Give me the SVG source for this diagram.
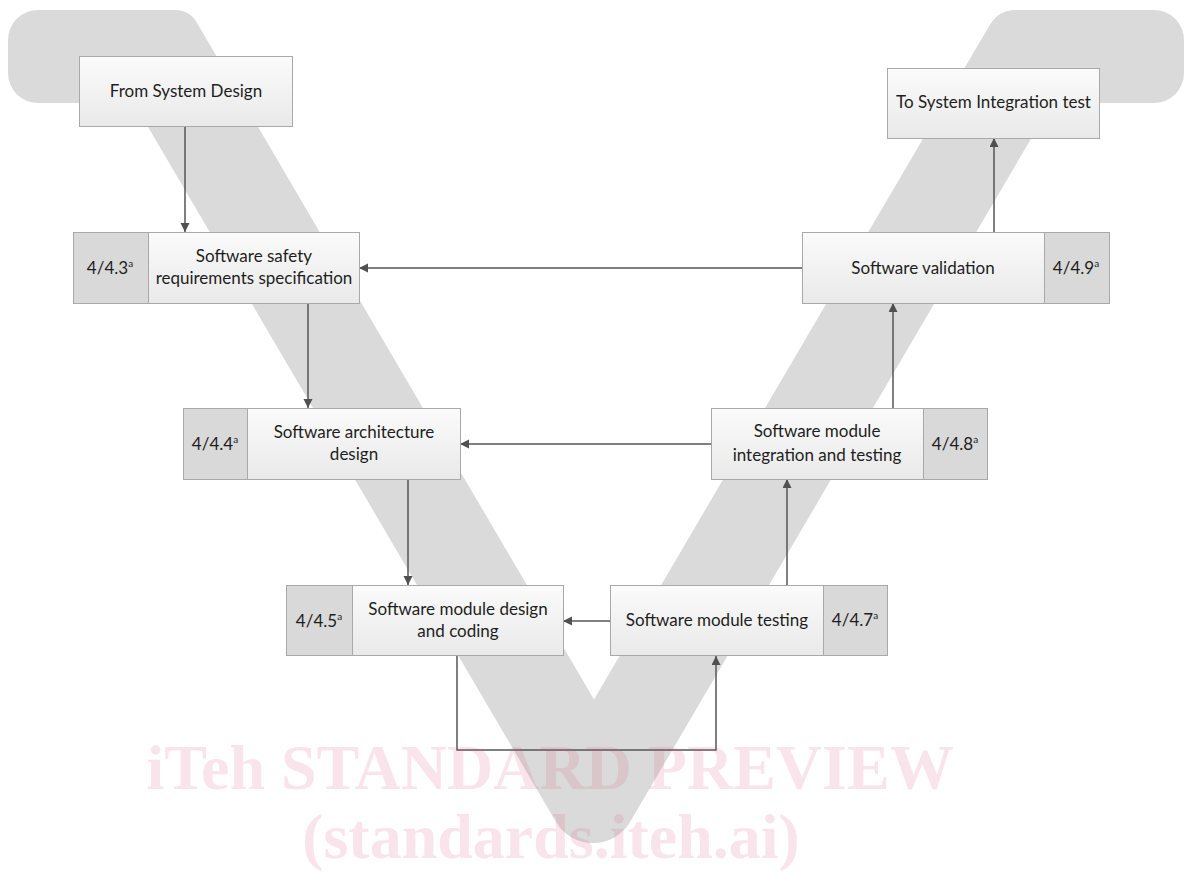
<svg xmlns="http://www.w3.org/2000/svg" width="1184" height="873" viewBox="0 0 1184 873">
<defs>
<linearGradient id="boxg" x1="0" y1="0" x2="0" y2="1">
<stop offset="0" stop-color="#fbfbfb"/>
<stop offset="1" stop-color="#e9e9e9"/>
</linearGradient>
<marker id="arr" markerUnits="userSpaceOnUse" markerWidth="10" markerHeight="10" refX="9" refY="4.5" orient="auto">
<path d="M0,0 L9,4.5 L0,9 Z" fill="#505050"/>
</marker>
<style>
.box{fill:url(#boxg);stroke:#a9a9a9;stroke-width:1}
.num{fill:#d9d9d9;stroke:#a9a9a9;stroke-width:1}
.t{font-family:Lato,"Liberation Sans",sans-serif;font-size:17px;fill:#1e1e1e;text-anchor:middle}
.sup{font-size:10px}
.c{fill:none;stroke:#555555;stroke-width:1.5}
.wm{font-family:"Liberation Serif","Times New Roman",serif;font-weight:bold;font-size:64px;fill:#e05a80;fill-opacity:0.16;text-anchor:middle}
</style>
</defs>
<rect width="1184" height="873" fill="#ffffff"/>
<path id="vshape" fill="#d9dad9" d="M38,10 L175,10 Q189.4,10 196.6,22.3 L594,699.4 L989.9,24.8 Q998.6,10 1015.8,10 L1154,10 A30,30 0 0 1 1184,40 L1184,73 A30,30 0 0 1 1154,103 L1052,103 L630,822 A43,43 0 0 1 556,822 L134,103 L38,103 A30,30 0 0 1 8,73 L8,40 A30,30 0 0 1 38,10 Z"/>
<g id="connectors">
<line class="c" x1="185" y1="127" x2="185" y2="232" marker-end="url(#arr)"/>
<line class="c" x1="308" y1="303" x2="308" y2="408" marker-end="url(#arr)"/>
<line class="c" x1="408" y1="479" x2="408" y2="585" marker-end="url(#arr)"/>
<polyline class="c" points="457,655 457,750 716,750 716,656" marker-end="url(#arr)"/>
<line class="c" x1="787" y1="585" x2="787" y2="479" marker-end="url(#arr)"/>
<line class="c" x1="893" y1="409" x2="893" y2="303" marker-end="url(#arr)"/>
<line class="c" x1="994" y1="232" x2="994" y2="138" marker-end="url(#arr)"/>
<line class="c" x1="802" y1="268" x2="359" y2="268" marker-end="url(#arr)"/>
<line class="c" x1="711" y1="444" x2="460" y2="444" marker-end="url(#arr)"/>
<line class="c" x1="610" y1="621" x2="563" y2="621" marker-end="url(#arr)"/>
</g>
<g id="from-system-design">
<rect class="box" x="79.5" y="56.5" width="213" height="70"/>
<text class="t" x="186" y="97">From System Design</text>
</g>
<g id="to-system-integration">
<rect class="box" x="887.5" y="68.5" width="212" height="70"/>
<text class="t" x="993.5" y="108">To System Integration test</text>
</g>
<g id="safety-requirements">
<rect class="num" x="73.5" y="232.5" width="75" height="71"/>
<rect class="box" x="148.5" y="232.5" width="211" height="71"/>
<text class="t" x="110" y="274">4/4.3<tspan class="sup" dy="-7">a</tspan></text>
<text class="t" x="254" y="262">Software safety</text>
<text class="t" x="254" y="284">requirements specification</text>
</g>
<g id="validation">
<rect class="box" x="802.5" y="232.5" width="242" height="71"/>
<rect class="num" x="1044.5" y="232.5" width="65" height="71"/>
<text class="t" x="923" y="274">Software validation</text>
<text class="t" x="1076" y="274">4/4.9<tspan class="sup" dy="-7">a</tspan></text>
</g>
<g id="architecture">
<rect class="num" x="183.5" y="408.5" width="64" height="71"/>
<rect class="box" x="247.5" y="408.5" width="213" height="71"/>
<text class="t" x="215" y="450">4/4.4<tspan class="sup" dy="-7">a</tspan></text>
<text class="t" x="354" y="438">Software architecture</text>
<text class="t" x="354" y="460">design</text>
</g>
<g id="integration">
<rect class="box" x="711.5" y="408.5" width="212" height="71"/>
<rect class="num" x="923.5" y="408.5" width="64" height="71"/>
<text class="t" x="817" y="437">Software module</text>
<text class="t" x="817" y="461">integration and testing</text>
<text class="t" x="955" y="450">4/4.8<tspan class="sup" dy="-7">a</tspan></text>
</g>
<g id="module-design">
<rect class="num" x="286.5" y="585.5" width="66" height="70"/>
<rect class="box" x="352.5" y="585.5" width="211" height="70"/>
<text class="t" x="319" y="627">4/4.5<tspan class="sup" dy="-7">a</tspan></text>
<text class="t" x="458" y="615">Software module design</text>
<text class="t" x="458" y="637">and coding</text>
</g>
<g id="module-testing">
<rect class="box" x="610.5" y="585.5" width="213" height="70"/>
<rect class="num" x="823.5" y="585.5" width="64" height="70"/>
<text class="t" x="717" y="626">Software module testing</text>
<text class="t" x="855" y="626">4/4.7<tspan class="sup" dy="-7">a</tspan></text>
</g>
<g id="watermark">
<text class="wm" x="550" y="789">iTeh STANDARD PREVIEW</text>
<text class="wm" x="551" y="858">(standards.iteh.ai)</text>
</g>
</svg>
